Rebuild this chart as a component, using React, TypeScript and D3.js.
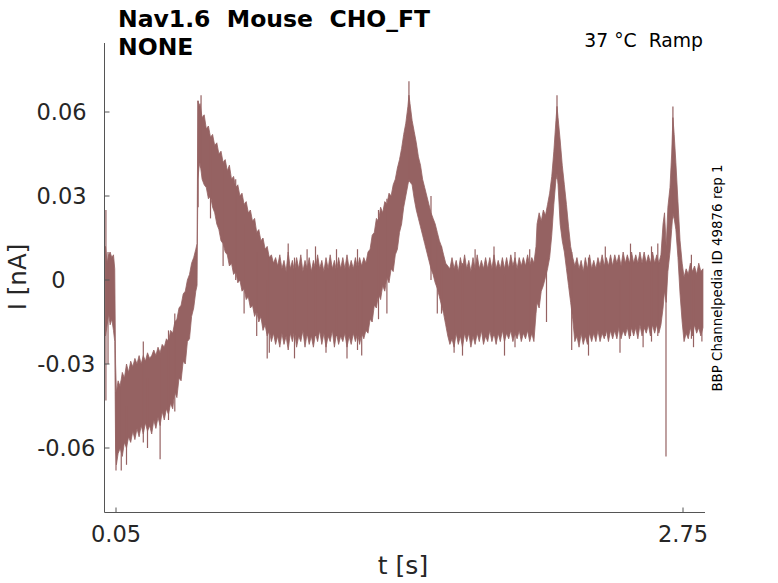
import * as d3 from 'd3';

// 記録トレースの包絡線 (t [s], 上側 / 下側 [nA])
const traceT = [
  0.0, 0.008, 0.015, 0.022, 0.03, 0.038, 0.044, 0.048, 0.052, 0.06, 0.07, 0.08, 0.09, 0.1, 0.11, 0.12, 0.13,
  0.14, 0.15, 0.16, 0.17, 0.18, 0.19, 0.2, 0.21, 0.22, 0.23, 0.24, 0.25, 0.26, 0.27, 0.28, 0.29, 0.3, 0.31,
  0.32, 0.33, 0.34, 0.35, 0.36, 0.37, 0.38, 0.39, 0.4, 0.41, 0.42, 0.43, 0.436, 0.44, 0.445, 0.45, 0.46, 0.47,
  0.48, 0.49, 0.5, 0.51, 0.52, 0.53, 0.54, 0.55, 0.56, 0.57, 0.58, 0.59, 0.6, 0.61, 0.62, 0.63, 0.64, 0.65,
  0.66, 0.67, 0.68, 0.69, 0.7, 0.71, 0.72, 0.73, 0.74, 0.75, 0.76, 0.77, 0.78, 0.79, 0.8, 0.81, 0.82, 0.83,
  0.84, 0.85, 0.86, 0.87, 0.88, 0.89, 0.9, 0.91, 0.92, 0.93, 0.94, 0.95, 0.96, 0.97, 0.98, 0.99, 1.0, 1.01,
  1.02, 1.03, 1.04, 1.05, 1.06, 1.07, 1.08, 1.09, 1.1, 1.11, 1.12, 1.13, 1.14, 1.15, 1.16, 1.17, 1.18, 1.19,
  1.2, 1.21, 1.22, 1.23, 1.24, 1.25, 1.26, 1.27, 1.28, 1.29, 1.3, 1.31, 1.32, 1.33, 1.34, 1.35, 1.36, 1.37,
  1.38, 1.39, 1.4, 1.41, 1.42, 1.43, 1.44, 1.445, 1.45, 1.46, 1.47, 1.48, 1.49, 1.5, 1.51, 1.52, 1.53, 1.54,
  1.55, 1.56, 1.57, 1.58, 1.59, 1.6, 1.61, 1.62, 1.63, 1.64, 1.65, 1.66, 1.67, 1.68, 1.69, 1.7, 1.71, 1.72,
  1.73, 1.74, 1.75, 1.76, 1.77, 1.78, 1.79, 1.8, 1.81, 1.82, 1.83, 1.84, 1.85, 1.86, 1.87, 1.88, 1.89, 1.9,
  1.91, 1.92, 1.93, 1.94, 1.95, 1.96, 1.97, 1.98, 1.99, 2.0, 2.01, 2.02, 2.03, 2.04, 2.05, 2.055, 2.065,
  2.075, 2.085, 2.095, 2.105, 2.115, 2.125, 2.135, 2.145, 2.15, 2.155, 2.165, 2.175, 2.185, 2.195, 2.205,
  2.215, 2.225, 2.235, 2.245, 2.255, 2.265, 2.275, 2.285, 2.295, 2.305, 2.315, 2.325, 2.335, 2.345, 2.355,
  2.365, 2.375, 2.385, 2.395, 2.405, 2.415, 2.425, 2.435, 2.445, 2.455, 2.465, 2.475, 2.485, 2.495, 2.505,
  2.515, 2.525, 2.535, 2.545, 2.555, 2.565, 2.575, 2.585, 2.595, 2.605, 2.615, 2.625, 2.635, 2.645, 2.655,
  2.662, 2.67, 2.678, 2.688, 2.696, 2.702, 2.708, 2.716, 2.726, 2.736, 2.746, 2.755, 2.765, 2.775, 2.785,
  2.795, 2.805, 2.815, 2.825, 2.835, 2.845,
];
const traceHi = [
  0.012, 0.006, 0.009, 0.01, 0.008, 0.009, 0.004, -0.03, -0.04, -0.036, -0.038, -0.033, -0.035, -0.03, -0.033,
  -0.029, -0.031, -0.028, -0.03, -0.027, -0.03, -0.027, -0.029, -0.026, -0.028, -0.027, -0.025, -0.027, -0.024,
  -0.026, -0.023, -0.024, -0.021, -0.022, -0.018, -0.019, -0.015, -0.014, -0.01, -0.009, -0.005, -0.004, 0.0,
  0.002, 0.006, 0.008, 0.011, 0.013, 0.064, 0.062, 0.063, 0.058, 0.059, 0.054, 0.055, 0.051, 0.052, 0.048,
  0.049, 0.045, 0.046, 0.042, 0.043, 0.039, 0.041, 0.036, 0.037, 0.033, 0.034, 0.03, 0.031, 0.027, 0.028,
  0.024, 0.025, 0.021, 0.022, 0.017, 0.018, 0.014, 0.015, 0.011, 0.012, 0.008, 0.009, 0.006, 0.008, 0.005,
  0.009, 0.004, 0.007, 0.003, 0.01, 0.004, 0.007, 0.003, 0.008, 0.004, 0.009, 0.003, 0.007, 0.004, 0.008,
  0.003, 0.007, 0.004, 0.009, 0.004, 0.007, 0.003, 0.008, 0.004, 0.009, 0.004, 0.007, 0.003, 0.008, 0.004,
  0.008, 0.004, 0.009, 0.004, 0.007, 0.004, 0.008, 0.004, 0.008, 0.005, 0.008, 0.006, 0.01, 0.011, 0.016,
  0.017, 0.022, 0.021, 0.026, 0.024, 0.028, 0.027, 0.031, 0.03, 0.034, 0.036, 0.04, 0.043, 0.047, 0.052,
  0.056, 0.062, 0.066, 0.063, 0.057, 0.053, 0.049, 0.044, 0.041, 0.036, 0.033, 0.03, 0.027, 0.024, 0.022,
  0.02, 0.017, 0.014, 0.012, 0.009, 0.006, 0.005, 0.004, 0.008, 0.004, 0.007, 0.003, 0.008, 0.004, 0.009,
  0.004, 0.007, 0.003, 0.008, 0.004, 0.009, 0.004, 0.007, 0.004, 0.008, 0.004, 0.008, 0.004, 0.009, 0.004,
  0.007, 0.004, 0.008, 0.004, 0.008, 0.004, 0.009, 0.005, 0.008, 0.004, 0.008, 0.005, 0.008, 0.005, 0.009,
  0.005, 0.008, 0.006, 0.012, 0.02, 0.024, 0.021, 0.025, 0.023, 0.027, 0.031, 0.037, 0.046, 0.057, 0.062,
  0.058, 0.05, 0.041, 0.034, 0.027, 0.019, 0.012, 0.008, 0.005, 0.008, 0.004, 0.007, 0.003, 0.008, 0.004,
  0.009, 0.004, 0.007, 0.004, 0.008, 0.005, 0.009, 0.005, 0.008, 0.005, 0.009, 0.005, 0.009, 0.006, 0.009,
  0.005, 0.01, 0.006, 0.009, 0.006, 0.01, 0.006, 0.009, 0.006, 0.01, 0.006, 0.01, 0.006, 0.009, 0.006, 0.01,
  0.006, 0.009, 0.006, 0.009, 0.02, 0.024, 0.012, 0.026, 0.033, 0.045, 0.058, 0.052, 0.042, 0.028, 0.014,
  0.006, 0.001, 0.004, 0.002, 0.006, 0.003, 0.005, 0.002, 0.006, 0.003, 0.004,
];
const traceLo = [
  -0.02, -0.016, -0.012, -0.016, -0.014, -0.018, -0.022, -0.06, -0.066, -0.062, -0.06, -0.063, -0.058, -0.06,
  -0.056, -0.058, -0.054, -0.057, -0.053, -0.056, -0.052, -0.055, -0.051, -0.054, -0.052, -0.055, -0.05,
  -0.053, -0.049, -0.052, -0.047, -0.05, -0.046, -0.048, -0.044, -0.046, -0.04, -0.042, -0.035, -0.036,
  -0.029, -0.03, -0.022, -0.021, -0.013, -0.01, -0.004, -0.002, 0.036, 0.04, 0.042, 0.036, 0.034, 0.033,
  0.029, 0.03, 0.026, 0.024, 0.02, 0.018, 0.014, 0.013, 0.01, 0.009, 0.005, 0.006, 0.002, 0.003, -0.001, 0.0,
  -0.004, -0.003, -0.007, -0.006, -0.01, -0.009, -0.013, -0.011, -0.015, -0.013, -0.018, -0.016, -0.02,
  -0.018, -0.022, -0.019, -0.023, -0.02, -0.024, -0.019, -0.023, -0.02, -0.025, -0.019, -0.022, -0.018,
  -0.024, -0.02, -0.022, -0.018, -0.024, -0.019, -0.023, -0.02, -0.024, -0.019, -0.022, -0.018, -0.023,
  -0.019, -0.024, -0.02, -0.022, -0.018, -0.024, -0.019, -0.023, -0.02, -0.022, -0.019, -0.024, -0.02,
  -0.023, -0.019, -0.022, -0.019, -0.023, -0.019, -0.021, -0.018, -0.019, -0.014, -0.015, -0.009, -0.01,
  -0.005, -0.007, -0.002, -0.004, 0.001, -0.001, 0.004, 0.003, 0.009, 0.011, 0.017, 0.02, 0.026, 0.03, 0.034,
  0.036, 0.035, 0.034, 0.029, 0.025, 0.022, 0.019, 0.016, 0.013, 0.01, 0.007, 0.004, 0.002, -0.001, -0.003,
  -0.006, -0.009, -0.012, -0.016, -0.02, -0.023, -0.021, -0.024, -0.019, -0.023, -0.02, -0.024, -0.019,
  -0.022, -0.019, -0.024, -0.02, -0.023, -0.019, -0.022, -0.018, -0.023, -0.02, -0.022, -0.018, -0.022,
  -0.019, -0.023, -0.019, -0.022, -0.018, -0.022, -0.019, -0.021, -0.018, -0.022, -0.019, -0.021, -0.018,
  -0.022, -0.019, -0.021, -0.018, -0.022, -0.019, -0.022, -0.012, -0.008, -0.01, -0.004, -0.002, 0.001,
  0.004, 0.008, 0.016, 0.027, 0.036, 0.038, 0.034, 0.02, 0.014, 0.01, 0.004, -0.002, -0.008, -0.014, -0.022,
  -0.02, -0.024, -0.019, -0.023, -0.02, -0.023, -0.019, -0.022, -0.019, -0.022, -0.018, -0.022, -0.019,
  -0.021, -0.018, -0.022, -0.018, -0.021, -0.018, -0.021, -0.017, -0.021, -0.018, -0.02, -0.017, -0.021,
  -0.017, -0.02, -0.017, -0.021, -0.016, -0.02, -0.017, -0.019, -0.016, -0.02, -0.016, -0.019, -0.016,
  -0.019, -0.016, -0.01, -0.004, -0.008, 0.003, 0.01, 0.018, 0.024, 0.022, 0.018, 0.008, -0.005, -0.015,
  -0.022, -0.019, -0.021, -0.017, -0.02, -0.016, -0.019, -0.017, -0.02, -0.017,
];

// 包絡線からはみ出す個々のスパイク (t, 下端, 上端)
const spikeT = [
  0.002, 0.012, 0.05, 0.075, 0.1, 0.18, 0.2, 0.26, 0.3, 0.33, 0.441, 0.455, 0.5, 0.56, 0.62, 0.66, 0.72,
  0.77, 0.78, 0.87, 0.9, 0.96, 1.0, 1.05, 1.1, 1.15, 1.2, 1.22, 1.3, 1.34, 1.445, 1.55, 1.58, 1.6, 1.66, 1.7,
  1.76, 1.85, 1.9, 1.95, 2.02, 2.1, 2.15, 2.22, 2.3, 2.38, 2.45, 2.5, 2.56, 2.6, 2.63, 2.669, 2.702, 2.79, 2.8,
  2.84,
];
const spikeLo = [
  -0.043, -0.03, -0.068, -0.068, -0.066, -0.058, -0.06, -0.064, -0.05, -0.047, 0.026, 0.04, 0.022, 0.005, 0.0,
  -0.012, -0.02, -0.028, -0.026, -0.02, -0.028, -0.02, -0.02, -0.026, -0.02, -0.028, -0.025, -0.027, -0.014,
  -0.012, 0.035, 0.0, -0.012, -0.012, -0.026, -0.027, -0.02, -0.02, -0.027, -0.024, -0.02, -0.015, 0.036,
  -0.025, -0.027, -0.02, -0.026, -0.02, -0.024, -0.022, -0.02, -0.063, 0.022, -0.021, -0.024, -0.022,
];
const spikeHi = [
  0.025, 0.01, -0.04, -0.036, -0.045, -0.022, -0.035, -0.028, -0.018, -0.012, 0.064, 0.066, 0.05, 0.04, 0.036,
  0.02, 0.01, 0.0, 0.008, 0.013, 0.008, 0.011, 0.012, 0.0, 0.011, 0.006, 0.011, 0.0, 0.025, 0.029, 0.071,
  0.03, 0.014, 0.012, 0.004, 0.006, 0.011, 0.012, 0.002, 0.01, 0.011, 0.008, 0.066, 0.01, 0.008, 0.012, 0.0,
  0.013, 0.0, 0.012, 0.013, 0.01, 0.062, 0.009, 0.0, 0.0,
];

const yTicks = [-0.06, -0.03, 0, 0.03, 0.06];
const yTickLabels = ['-0.06', '-0.03', '0', '0.03', '0.06'];
const xTicks = [0.05, 2.75];
const xTickLabels = ['0.05', '2.75'];

const titleLines = ['Nav1.6  Mouse  CHO_FT', 'NONE'];
const conditionLabel = '37 °C  Ramp';
const sourceLabel = 'BBP Channelpedia ID 49876 rep 1';

export default function App() {
  const width = 778;
  const height = 583;
  const axisLeft = 104.5;
  const axisRight = 705;
  const axisTop = 43;
  const axisBottom = 512.5;
  const traceColor = '#956262';
  const inkColor = '#262626';
  const font = 'DejaVu Sans, sans-serif';

  const x = d3.scaleLinear().domain([0.05, 2.75]).range([116, 683]);
  const y = d3.scaleLinear().domain([-0.06, 0.06]).range([448, 112]);

  // 目盛りラベルは元図と同じくやや不揃いな中央位置に置く
  const yLabelX = (v: number) => (v < 0 ? 66.3 : v > 0 ? 61.5 : 58.3);

  const idx = d3.range(traceT.length);
  const band = d3
    .area<number>()
    .x((i) => x(traceT[i]))
    .y0((i) => y(traceLo[i]))
    .y1((i) => y(traceHi[i]));

  return (
    <svg
      width={width}
      height={height}
      style={{ position: 'absolute', left: 0, top: 0, background: '#fff' }}
      fontFamily={font}
    >
      {/* トレース */}
      <path d={band(idx) ?? ''} fill={traceColor} stroke={traceColor} strokeWidth={0.8} />
      {spikeT.map((t, i) => (
        <line
          key={i}
          x1={x(t)}
          x2={x(t)}
          y1={y(spikeLo[i])}
          y2={y(spikeHi[i])}
          stroke={traceColor}
          strokeWidth={1.2}
        />
      ))}

      {/* 軸 */}
      <line x1={axisLeft} x2={axisLeft} y1={axisTop} y2={axisBottom} stroke="#555" strokeWidth={1} />
      <line x1={axisLeft} x2={axisRight} y1={axisBottom} y2={axisBottom} stroke="#555" strokeWidth={1} />

      {yTicks.map((v, i) => (
        <g key={v}>
          <line x1={axisLeft} x2={axisLeft + 5} y1={y(v)} y2={y(v)} stroke="#555" />
          <text x={yLabelX(v)} y={y(v) + 8} textAnchor="middle" fontSize={22.5} fill={inkColor}>
            {yTickLabels[i]}
          </text>
        </g>
      ))}
      {xTicks.map((v, i) => (
        <g key={v}>
          <line x1={x(v)} x2={x(v)} y1={axisBottom} y2={axisBottom - 5} stroke="#555" />
          <text x={x(v)} y={542} textAnchor="middle" fontSize={22.5} fill={inkColor}>
            {xTickLabels[i]}
          </text>
        </g>
      ))}

      <text x={403} y={574} textAnchor="middle" fontSize={25} fill={inkColor}>
        t [s]
      </text>
      <text
        transform="translate(26,277) rotate(-90)"
        textAnchor="middle"
        fontSize={24.5}
        fill={inkColor}
      >
        I [nA]
      </text>

      {/* タイトル */}
      {titleLines.map((s, i) => (
        <text
          key={s}
          x={118}
          y={27 + i * 28}
          fontSize={23.5}
          fontWeight="bold"
          fill="#000"
          style={{ whiteSpace: 'pre' }}
        >
          {s}
        </text>
      ))}
      <text x={703} y={47} textAnchor="end" fontSize={18.8} fill="#000" style={{ whiteSpace: 'pre' }}>
        {conditionLabel}
      </text>
      <text
        transform="translate(721.5,278) rotate(-90)"
        textAnchor="middle"
        fontSize={13.4}
        fill="#000"
      >
        {sourceLabel}
      </text>
    </svg>
  );
}
